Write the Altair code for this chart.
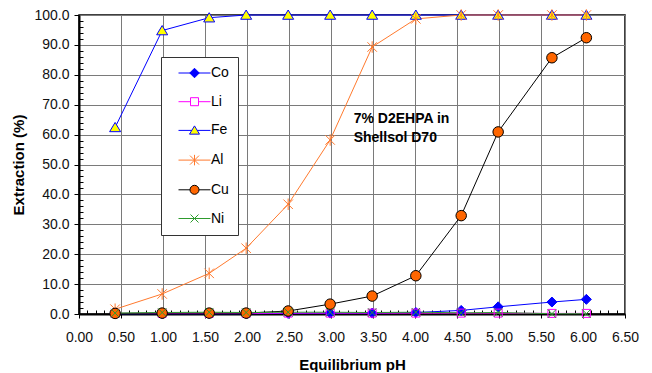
import altair as alt
import pandas as pd

# ---- data ----
ph = [0.43, 0.99, 1.55, 1.99, 2.49, 2.99, 3.49, 4.01, 4.55, 4.99, 5.63, 6.04]
co = [0.1, 0.1, 0.1, 0.1, 0.2, 0.3, 0.3, 0.5, 1.2, 2.4, 4.0, 4.9]
li = [0.2, 0.2, 0.2, 0.2, 0.3, 0.3, 0.3, 0.3, 0.3, 0.3, 0.2, 0.2]
fe = [62.4, 94.8, 99.1, 100.0, 100.0, 100.0, 100.0, 100.0, 100.0, 100.0, 100.0, 100.0]
al = [1.6, 6.7, 13.6, 22.0, 36.7, 58.2, 89.3, 98.7, 100.0, 100.0, 100.0, 100.0]
cu = [0.2, 0.3, 0.3, 0.3, 1.0, 3.3, 6.0, 12.8, 32.9, 60.9, 85.7, 92.4]
ni = [0.3, 0.5, 0.6, 0.5, 0.6, 0.6, 0.5, 0.6, 0.4, 0.5, 0.1, 0.1]

series_names = ["Co", "Li", "Fe", "Al", "Cu", "Ni"]
series_values = [co, li, fe, al, cu, ni]

x_tick_values = [0.0, 0.5, 1.0, 1.5, 2.0, 2.5, 3.0, 3.5, 4.0, 4.5, 5.0, 5.5, 6.0, 6.5]
y_tick_values = [0, 10, 20, 30, 40, 50, 60, 70, 80, 90, 100]
x_minor = [round(i * 0.1, 1) for i in range(66) if i % 5]
y_minor = [i for i in range(0, 101, 2) if i % 10]

ann_lines = ["7% D2EHPA in", "Shellsol D70"]
ann_x = [3.27, 3.27]
ann_y = [65.1, 58.7]

# ---- styles ----
line_colors = ["#0000FF", "#FF00FF", "#0000FF", "#FF7A2E", "#000000", "#2E9B2E"]
marker_fills = ["#0000FF", "transparent", "#FFFF00", "transparent", "#FF6600", "transparent"]
marker_paths = [
    "M0,-1L1,0L0,1L-1,0Z",
    "M-0.8,-0.8L0.8,-0.8L0.8,0.8L-0.8,0.8Z",
    "M0,-1L1.1,0.85L-1.1,0.85Z",
    "M-0.95,-0.95L0.95,0.95M-0.95,0.95L0.95,-0.95M0,-1.15L0,1.15",
    "M-1.05,0A1.05,1.05,0,1,0,1.05,0A1.05,1.05,0,1,0,-1.05,0Z",
    "M-0.85,-0.85L0.85,0.85M-0.85,0.85L0.85,-0.85",
]
legend_paths = [
    "M0.3,0L6.7,0M3.5,-0.95L4.45,0L3.5,0.95L2.55,0Z",
    "M0.3,0L2.7,0M4.3,0L6.7,0M2.7,-0.8L4.3,-0.8L4.3,0.8L2.7,0.8Z",
    "M0.3,0L2.95,0M4.05,0L6.7,0M3.5,-0.9L4.5,0.75L2.5,0.75Z",
    "M0.3,0L6.7,0M2.6,-0.9L4.4,0.9M2.6,0.9L4.4,-0.9M3.5,-1.05L3.5,1.05",
    "M0.3,0L2.6,0M4.4,0L6.7,0M2.6,0A0.9,0.9,0,1,0,4.4,0A0.9,0.9,0,1,0,2.6,0Z",
    "M0.3,0L6.7,0M2.7,-0.8L4.3,0.8M2.7,0.8L4.3,-0.8",
]

rows = []
for order, (name, vals) in enumerate(zip(series_names, series_values)):
    for x, y in zip(ph, vals):
        rows.append({"series": name, "order": order, "pH": x, "ext": y})
df = pd.DataFrame(rows)
ann_df = pd.DataFrame({"t": ann_lines, "x": ann_x, "y": ann_y})

FONT = "Liberation Sans"
W, H = 546, 299

xscale = alt.Scale(domain=[0, 6.5], nice=False, zero=False)
yscale = alt.Scale(domain=[0, 100], nice=False)

x_main = alt.Axis(
    orient="bottom", values=x_tick_values, format=".2f", grid=True,
    gridColor="#7a7a7a", gridWidth=1, tickSize=4, tickColor="#000",
    domainColor="#000", domainWidth=2, labelFont=FONT, labelFontSize=14,
    labelColor="#111", labelPadding=12, labelFlush=False, labelOverlap=False,
    title="Equilibrium pH", titleFont=FONT, titleFontSize=15,
    titleFontWeight="bold", titleColor="#000", titlePadding=13,
)
y_main = alt.Axis(
    orient="left", values=y_tick_values, format=".1f", grid=True,
    gridColor="#7a7a7a", gridWidth=1, tickSize=5, tickColor="#000",
    domainColor="#000", domainWidth=2, labelFont=FONT, labelFontSize=14,
    labelColor="#111", labelPadding=5, labelOverlap=False,
    title="Extraction (%)", titleFont=FONT, titleFontSize=15,
    titleFontWeight="bold", titleColor="#000", titlePadding=7,
)
x_minor_axis = alt.Axis(
    orient="top", offset=-H, values=x_minor, labels=False, grid=False,
    domain=False, tickSize=4, tickColor="#000", title="",
)
y_minor_axis = alt.Axis(
    orient="right", offset=-W, values=y_minor, labels=False, grid=False,
    domain=False, tickSize=4, tickColor="#000", title="",
)

sdom = alt.Scale(domain=series_names, range=line_colors)

lines = alt.Chart(df).mark_line(strokeWidth=1).encode(
    x=alt.X("pH:Q", scale=xscale, axis=x_main),
    y=alt.Y("ext:Q", scale=yscale, axis=y_main),
    stroke=alt.Stroke("series:N", scale=sdom, legend=None),
    order="pH:Q",
)

points = alt.Chart(df).mark_point(size=100, strokeWidth=1, opacity=1).encode(
    x=alt.X("pH:Q", scale=xscale, axis=x_minor_axis),
    y=alt.Y("ext:Q", scale=yscale, axis=y_minor_axis),
    shape=alt.Shape("series:N", scale=alt.Scale(domain=series_names, range=marker_paths), legend=None),
    fill=alt.Fill("series:N", scale=alt.Scale(domain=series_names, range=marker_fills), legend=None),
    stroke=alt.Stroke("series:N", scale=sdom, legend=None),
    order="order:Q",
)

legend = alt.Legend(
    title=None, orient="none", legendX=82, legendY=42, fillColor="white",
    strokeColor="#333", padding=9, rowPadding=14.7, symbolSize=100,
    symbolStrokeWidth=1, labelFont=FONT, labelFontSize=14, labelColor="#000",
    labelOffset=27,
)
legend_layer = alt.Chart(df).transform_filter("datum.pH < -1").mark_point(
    size=100, strokeWidth=1, opacity=1
).encode(
    x=alt.X("pH:Q", scale=xscale, axis=None),
    y=alt.Y("ext:Q", scale=yscale, axis=None),
    shape=alt.Shape("series:N", scale=alt.Scale(domain=series_names, range=legend_paths), legend=legend),
    fill=alt.Fill("series:N", scale=alt.Scale(domain=series_names, range=marker_fills), legend=legend),
    stroke=alt.Stroke("series:N", scale=alt.Scale(domain=series_names, range=line_colors), legend=legend),
)

text = alt.Chart(ann_df).mark_text(
    align="left", baseline="middle", font=FONT, fontSize=14,
    fontWeight="bold", color="#000",
).encode(
    x=alt.X("x:Q", scale=xscale, axis=None),
    y=alt.Y("y:Q", scale=yscale, axis=None),
    text="t:N",
)

chart = (
    alt.layer(lines, points, legend_layer, text)
    .resolve_axis(x="independent", y="independent")
    .resolve_scale(shape="independent", fill="independent", stroke="independent")
    .properties(
        width=W, height=H,
        autosize=alt.AutoSizeParams(type="none"),
        padding={"left": 71, "top": 7, "right": 19, "bottom": 58},
        background="white",
    )
    .configure_view(stroke="#000", strokeWidth=1.5)
)

chart.save("out.html", embed_options={"renderer": "svg", "actions": False})
